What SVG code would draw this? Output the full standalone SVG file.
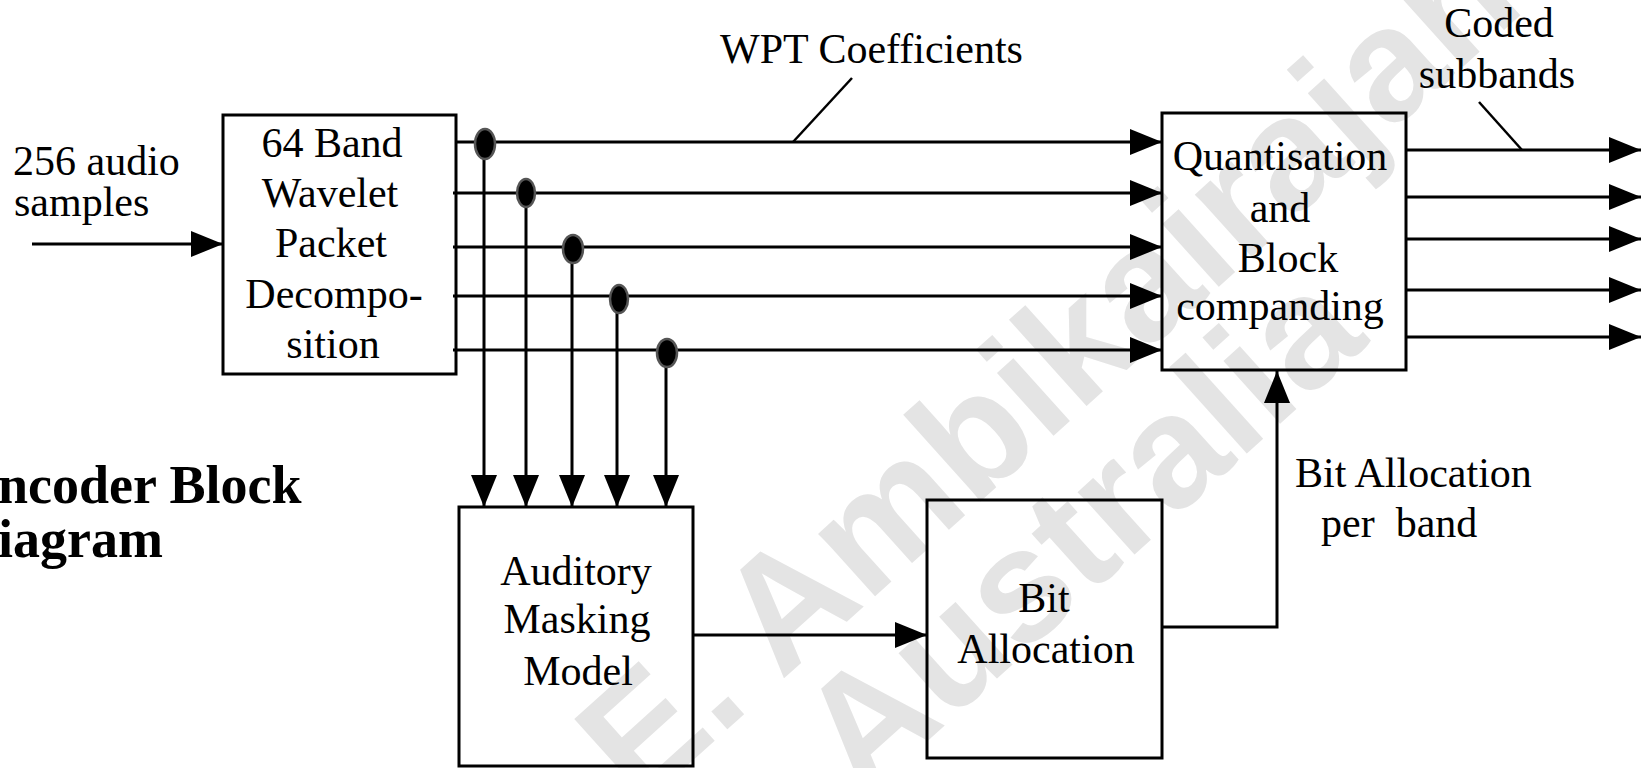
<svg xmlns="http://www.w3.org/2000/svg" width="1645" height="768" viewBox="0 0 1645 768">
  <style>
    .box { fill: none; stroke: #000; stroke-width: 3; }
    .arrow { fill: none; stroke: #000; stroke-width: 3; marker-end: url(#head); }
    .lead { stroke: #000; stroke-width: 2.5; }
    .tap { fill: #000; stroke: #555; stroke-width: 2.5; }
    .lbl { font-family: "Liberation Serif", "Times New Roman", serif; font-size: 42px; fill: #000; }
    .mid { text-anchor: middle; }
    .title { font-family: "Liberation Serif", "Times New Roman", serif; font-size: 54px; font-weight: bold; fill: #000; }
    .mark { font-family: "Liberation Sans", Arial, sans-serif; font-size: 160px; font-weight: bold; fill: #e4e4e4; }
  </style>
  <defs>
    <marker id="head" viewBox="0 0 32 26" refX="32" refY="13" markerWidth="32" markerHeight="26" markerUnits="userSpaceOnUse" orient="auto">
      <path d="M0,0 L32,13 L0,26 Z" fill="#000"/>
    </marker>
  </defs>
  <rect width="1645" height="768" fill="#fff"/>

  <!-- background watermark -->
  <g id="watermark">
    <text class="mark" transform="translate(640,808) rotate(-42)">E. Ambikairajah</text>
    <text class="mark" transform="translate(862,800) rotate(-42)">Australia</text>
  </g>

  <!-- title, clipped at the left edge -->
  <g id="title">
    <text class="title" x="-2" y="503">ncoder Block</text>
    <text class="title" x="-2" y="557">iagram</text>
  </g>

  <!-- connectors -->
  <g id="connectors">
    <!-- input samples -->
    <line class="arrow" x1="32" y1="244" x2="223" y2="244"/>
    <!-- WPT coefficient bands -->
    <line class="arrow" x1="456" y1="142" x2="1162" y2="142"/>
    <line class="arrow" x1="453" y1="193" x2="1162" y2="193"/>
    <line class="arrow" x1="453" y1="247" x2="1162" y2="247"/>
    <line class="arrow" x1="453" y1="296" x2="1162" y2="296"/>
    <line class="arrow" x1="453" y1="350" x2="1162" y2="350"/>
    <!-- taps down to the masking model -->
    <line class="arrow" x1="484" y1="144" x2="484" y2="507"/>
    <line class="arrow" x1="526" y1="193" x2="526" y2="507"/>
    <line class="arrow" x1="572" y1="249" x2="572" y2="507"/>
    <line class="arrow" x1="617" y1="299" x2="617" y2="507"/>
    <line class="arrow" x1="666" y1="353" x2="666" y2="507"/>
    <ellipse class="tap" cx="485" cy="144" rx="10" ry="15"/>
    <ellipse class="tap" cx="526" cy="193" rx="9" ry="14"/>
    <ellipse class="tap" cx="573" cy="249" rx="10" ry="14"/>
    <ellipse class="tap" cx="619" cy="299" rx="9" ry="14"/>
    <ellipse class="tap" cx="667" cy="353" rx="10" ry="14"/>
    <!-- coded subband outputs -->
    <line class="arrow" x1="1406" y1="150" x2="1641" y2="150"/>
    <line class="arrow" x1="1406" y1="197" x2="1641" y2="197"/>
    <line class="arrow" x1="1406" y1="239" x2="1641" y2="239"/>
    <line class="arrow" x1="1406" y1="290" x2="1641" y2="290"/>
    <line class="arrow" x1="1406" y1="337" x2="1641" y2="337"/>
    <!-- masking model to bit allocation -->
    <line class="arrow" x1="693" y1="635" x2="927" y2="635"/>
    <!-- bit allocation back to the quantiser -->
    <path class="arrow" d="M1162,627 H1277 V371"/>
    <!-- label leaders -->
    <line class="lead" x1="852" y1="78" x2="793" y2="142"/>
    <line class="lead" x1="1479" y1="102" x2="1522" y2="150"/>
  </g>

  <!-- edge labels -->
  <g id="labels">
    <text class="lbl" x="13" y="175">256 audio</text>
    <text class="lbl" x="14" y="216">samples</text>
    <text class="lbl" x="720" y="63">WPT Coefficients</text>
    <text class="lbl mid" x="1499" y="37">Coded</text>
    <text class="lbl mid" x="1497" y="88">subbands</text>
    <text class="lbl" x="1295" y="487">Bit Allocation</text>
    <text class="lbl" x="1321" y="537" xml:space="preserve">per  band</text>
  </g>

  <g id="wpd">
    <rect class="box" x="223" y="115" width="233" height="259"/>
    <text class="lbl mid" x="332" y="157">64 Band</text>
    <text class="lbl mid" x="330" y="207">Wavelet</text>
    <text class="lbl mid" x="331" y="257">Packet</text>
    <text class="lbl mid" x="334" y="308">Decompo-</text>
    <text class="lbl mid" x="333" y="358">sition</text>
  </g>

  <g id="quantiser">
    <rect class="box" x="1162" y="113" width="244" height="257"/>
    <text class="lbl mid" x="1280" y="170">Quantisation</text>
    <text class="lbl mid" x="1280" y="222">and</text>
    <text class="lbl mid" x="1288" y="272">Block</text>
    <text class="lbl mid" x="1280" y="320">companding</text>
  </g>

  <g id="masking">
    <rect class="box" x="459" y="507" width="234" height="259"/>
    <text class="lbl mid" x="576" y="585">Auditory</text>
    <text class="lbl mid" x="577" y="633">Masking</text>
    <text class="lbl mid" x="578" y="685">Model</text>
  </g>

  <g id="bitalloc">
    <rect class="box" x="927" y="500" width="235" height="258"/>
    <text class="lbl mid" x="1044" y="612">Bit</text>
    <text class="lbl mid" x="1046" y="663">Allocation</text>
  </g>
</svg>
